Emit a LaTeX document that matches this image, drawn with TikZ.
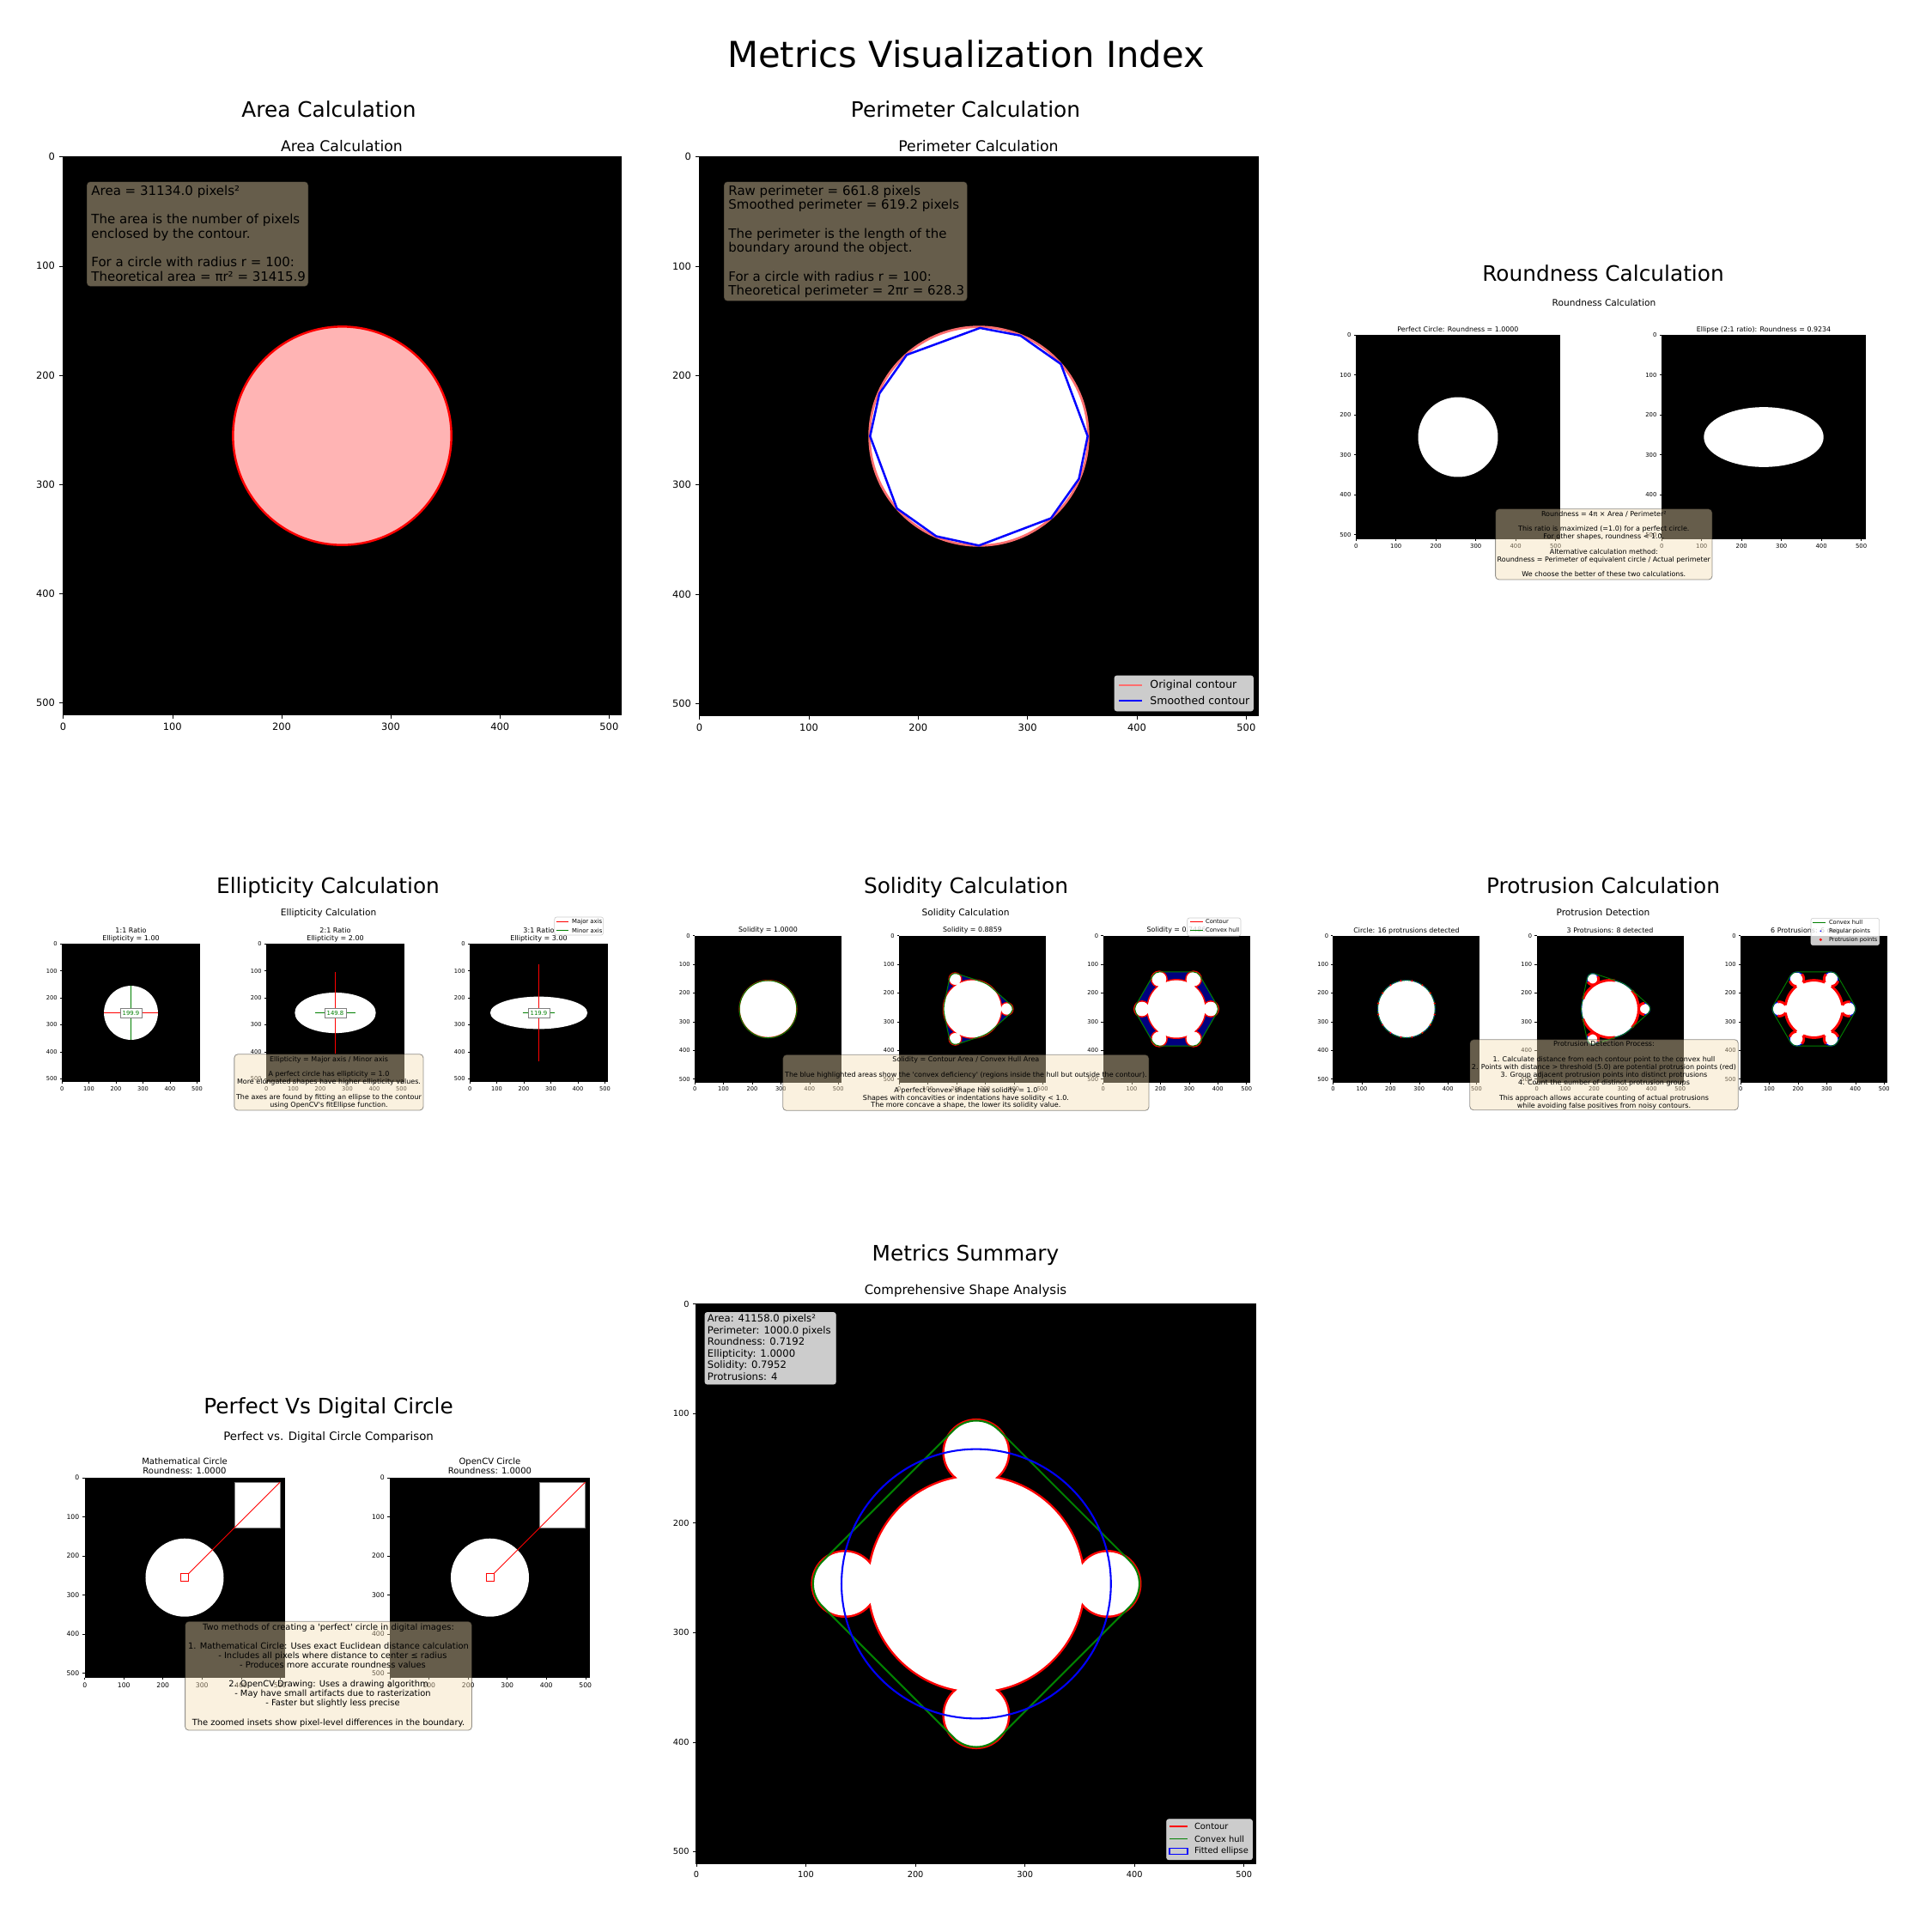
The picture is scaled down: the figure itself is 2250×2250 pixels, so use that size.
\documentclass[tikz,border=0pt]{standalone}
\usepackage{fontspec}
\setmainfont{DejaVu Sans}
\definecolor{wheat}{RGB}{245,222,179}
\definecolor{pinkfill}{RGB}{255,180,180}
\definecolor{navyc}{RGB}{0,0,128}
\definecolor{mplgreen}{RGB}{0,128,0}
\definecolor{salmonc}{RGB}{255,110,110}
\definecolor{lgedge}{RGB}{204,204,204}
\definecolor{mplred}{RGB}{255,0,0}
\definecolor{mplblue}{RGB}{0,0,255}
\newcommand\fsz[1]{\fontsize{#1}{#1}\selectfont}
\newcommand\sq{\textquotesingle}
\tikzset{
 wbox/.style={rounded corners=2pt, fill=wheat, draw=black, opacity=0.42, line width=0.4pt},
 lgbox/.style={rounded corners=1.2pt, fill=white, fill opacity=0.8, draw=lgedge, line width=0.3pt},
 ptitle/.style={anchor=base, inner sep=0pt, font=\fsz{11.9}},
 shape3/.style={insert path={(0,0) circle[radius=100] (0:120) circle[radius=20] (120:120) circle[radius=20] (240:120) circle[radius=20]}},
 hull3/.style={insert path={([shift={(0:120)}]-48.19:20) arc[start angle=-48.19,end angle=48.19,radius=20] -- (48.19:100) arc[start angle=48.19,end angle=71.81,radius=100] -- ([shift={(120:120)}]71.81:20) arc[start angle=71.81,end angle=168.19,radius=20] -- (168.19:100) arc[start angle=168.19,end angle=191.81,radius=100] -- ([shift={(240:120)}]191.81:20) arc[start angle=191.81,end angle=288.19,radius=20] -- (288.19:100) arc[start angle=288.19,end angle=311.81,radius=100] -- cycle}},
 shape6/.style={insert path={(0,0) circle[radius=100] (0:120) circle[radius=25] (60:120) circle[radius=25] (120:120) circle[radius=25] (180:120) circle[radius=25] (240:120) circle[radius=25] (300:120) circle[radius=25]}},
 hull6/.style={insert path={([shift={(0:120)}]-30:25) arc[start angle=-30,end angle=30,radius=25] -- ([shift={(60:120)}]30:25) arc[start angle=30,end angle=90,radius=25] -- ([shift={(120:120)}]90:25) arc[start angle=90,end angle=150,radius=25] -- ([shift={(180:120)}]150:25) arc[start angle=150,end angle=210,radius=25] -- ([shift={(240:120)}]210:25) arc[start angle=210,end angle=270,radius=25] -- ([shift={(300:120)}]270:25) arc[start angle=270,end angle=330,radius=25] -- cycle}},
 shape4/.style={insert path={(0,0) circle[radius=98] (0:120) circle[radius=29] (90:120) circle[radius=29] (180:120) circle[radius=29] (270:120) circle[radius=29]}},
 hull4/.style={insert path={([shift={(0:120)}]-45:29) arc[start angle=-45,end angle=45,radius=29] -- ([shift={(90:120)}]45:29) arc[start angle=45,end angle=135,radius=29] -- ([shift={(180:120)}]135:29) arc[start angle=135,end angle=225,radius=29] -- ([shift={(270:120)}]225:29) arc[start angle=225,end angle=315,radius=29] -- cycle}},
}
\newcommand\imgaxes[4]{%
  \fill[black] (#1,#2) rectangle ++(#3,#3);
  \pgfmathsetmacro\tkem{#4/0.48}%
  \foreach \v in {0,100,200,300,400,500}{%
    \pgfmathsetmacro\tkp{(\v+0.5)/512*#3}%
    \draw[line width=0.25pt] (#1+\tkp,#2+#3) -- ++(0,0.35*\tkem);
    \draw[line width=0.25pt] (#1,#2+\tkp) -- ++(-0.35*\tkem,0);
    \node[anchor=north,inner sep=0pt,font=\fsz{#4}] at (#1+\tkp,#2+#3+0.75*\tkem) {\v};
    \node[anchor=east,inner sep=0pt,font=\fsz{#4}] at (#1-0.75*\tkem,#2+\tkp) {\v};
  }%
}
\newcommand\tlines[5]{%
  \foreach \tlx [count=\tli from 0] in {#5}{%
    \node[inner sep=0pt,#4] at (#1,#2+\tli*#3) {\tlx};}%
}
\begin{document}
\begin{tikzpicture}[x=0.48pt,y=-0.48pt]
\useasboundingbox (0,0) rectangle (2250,2250);
\fill[white] (0,0) rectangle (2250,2250);
\node[anchor=base,inner sep=0pt,font=\fsz{20}] (maintitle) at (1125,78) {Metrics Visualization Index};

% ================= Area =================
\node[ptitle] (areatitle) at (383,136) {Area Calculation};
\node[anchor=base,inner sep=0pt,font=\fsz{8.3}] (areasub) at (398,176) {Area Calculation};
\imgaxes{73}{182}{651}{5.5}
\begin{scope}[shift={(73,182)},scale=1.2715]
  \fill[pinkfill] (256,256) circle[radius=100];
  \draw[mplred,line width=1.2pt] (256,256) circle[radius=100];
\end{scope}
\draw[wbox] (101,211.5) rectangle (359,333.6);
\tlines{106}{227}{16.7}{anchor=base west,font=\fsz{7.2}}{Area = 31134.0 pixels²,{},The area is the number of pixels,enclosed by the contour.,{},For a circle with radius r = 100:,Theoretical area = πr² = 31415.9}

% ================= Perimeter =================
\node[ptitle] (perimtitle) at (1124.5,136) {Perimeter Calculation};
\node[anchor=base,inner sep=0pt,font=\fsz{8.3}] (perimsub) at (1139.5,176) {Perimeter Calculation};
\imgaxes{814}{182}{652}{5.5}
\begin{scope}[shift={(814,182)},scale=1.2734]
  \fill[white] (256,256) circle[radius=100];
  \draw[salmonc,line width=1.3pt] (256,256) circle[radius=100];
  \draw[mplblue,line width=1.2pt,line join=round] (257,157) -- (294,164) -- (331,190) -- (355.5,256) -- (347.5,295) -- (322,331) -- (256,356) -- (217,347.5) -- (181,322) -- (156.5,256) -- (165,217) -- (190,181.6) -- cycle;
\end{scope}
\draw[wbox] (843,211.5) rectangle (1126.5,350.6);
\tlines{848}{227}{16.7}{anchor=base west,font=\fsz{7.2}}{Raw perimeter = 661.8 pixels,Smoothed perimeter = 619.2 pixels,{},The perimeter is the length of the,boundary around the object.,{},For a circle with radius r = 100:,Theoretical perimeter = 2πr = 628.3}
\draw[lgbox] (1298,787) rectangle (1459.5,828);
\draw[salmonc,line width=0.8pt] (1303,798) -- (1329.6,798);
\draw[mplblue,line width=0.8pt] (1303,816) -- (1329.6,816);
\node[anchor=west,inner sep=0pt,font=\fsz{6}] (lgorig) at (1339,798) {Original contour};
\node[anchor=west,inner sep=0pt,font=\fsz{6}] (lgsmooth) at (1339,816) {Smoothed contour};

% ================= Roundness =================
\node[ptitle] (roundtitle) at (1867,327) {Roundness Calculation};
\node[anchor=base,inner sep=0pt,font=\fsz{5.1}] (roundsub) at (1868,356) {Roundness Calculation};
\node[anchor=base,inner sep=0pt,font=\fsz{3.8}] at (1698,386) {Perfect Circle: Roundness = 1.0000};
\node[anchor=base,inner sep=0pt,font=\fsz{3.8}] at (2054,386) {Ellipse (2:1 ratio): Roundness = 0.9234};
\imgaxes{1579}{390}{238}{3.3}
\imgaxes{1935}{390}{238}{3.3}
\begin{scope}[shift={(1579,390)},scale=0.46484]
  \fill[white] (256,256) circle[radius=100];
\end{scope}
\begin{scope}[shift={(1935,390)},scale=0.46484]
  \fill[white] (256,256) ellipse[x radius=150,y radius=75];
\end{scope}
\draw[wbox] (1741.6,592.7) rectangle (1994,675);
\tlines{1867.8}{601}{8.87}{anchor=base,font=\fsz{3.84}}{{Roundness = 4π × Area / Perimeter²},{},{This ratio is maximized (=1.0) for a perfect circle.},{For other shapes, roundness < 1.0.},{},{Alternative calculation method:},{Roundness = Perimeter of equivalent circle / Actual perimeter},{},{We choose the better of these two calculations.}}

% ================= Ellipticity =================
\node[ptitle] (elltitle) at (382,1040) {Ellipticity Calculation};
\node[anchor=base,inner sep=0pt,font=\fsz{5.1}] (ellsub) at (382.6,1066) {Ellipticity Calculation};
\foreach \cx/\r in {152.5/1, 390.5/2, 627.5/3}{
  \node[anchor=base,inner sep=0pt,font=\fsz{3.85}] at (\cx,1086) {\r:1 Ratio};
  \node[anchor=base,inner sep=0pt,font=\fsz{3.85}] at (\cx,1095) {Ellipticity = \r.00};
}
\imgaxes{72}{1099}{161}{3.2}
\imgaxes{310}{1099}{161}{3.2}
\imgaxes{547}{1099}{161}{3.2}
\begin{scope}[shift={(72,1099)},scale=0.31445]
  \fill[white] (256,256) circle[radius=100];
  \draw[mplred,line width=0.6pt] (156,256) -- (356,256);
  \draw[mplgreen,line width=0.6pt] (256,156) -- (256,356);
  \node[fill=white,draw=gray,line width=0.3pt,inner sep=1.3pt,font=\fsz{3.3},text=mplgreen] (l1) at (256,256) {199.9};
\end{scope}
\begin{scope}[shift={(310,1099)},scale=0.31445]
  \fill[white] (256,256) ellipse[x radius=150,y radius=75];
  \draw[mplred,line width=0.6pt] (256,106) -- (256,406);
  \draw[mplgreen,line width=0.6pt] (181,256) -- (331,256);
  \node[fill=white,draw=gray,line width=0.3pt,inner sep=1.3pt,font=\fsz{3.3},text=mplgreen] (l2) at (256,256) {149.8};
\end{scope}
\begin{scope}[shift={(547,1099)},scale=0.31445]
  \fill[white] (256,256) ellipse[x radius=180,y radius=60];
  \draw[mplred,line width=0.6pt] (256,76) -- (256,436);
  \draw[mplgreen,line width=0.6pt] (196,256) -- (316,256);
  \node[fill=white,draw=gray,line width=0.3pt,inner sep=1.3pt,font=\fsz{3.3},text=mplgreen] (l3) at (256,256) {119.9};
\end{scope}
\draw[lgbox] (645.8,1068) rectangle (702.6,1089);
\draw[mplred,line width=0.6pt] (647.5,1073.7) -- (662.3,1073.7);
\draw[mplgreen,line width=0.6pt] (647.5,1083.7) -- (662.3,1083.7);
\node[anchor=west,inner sep=0pt,font=\fsz{3.3}] at (665.8,1073.7) {Major axis};
\node[anchor=west,inner sep=0pt,font=\fsz{3.3}] at (665.8,1083.7) {Minor axis};
\draw[wbox] (272.9,1227.7) rectangle (493,1293);
\tlines{383}{1236}{8.9}{anchor=base,font=\fsz{3.84}}{{Ellipticity = Major axis / Minor axis},{},{A perfect circle has ellipticity = 1.0},{More elongated shapes have higher ellipticity values.},{},{The axes are found by fitting an ellipse to the contour},{using OpenCV\sq s fitEllipse function.}}

% ================= Solidity =================
\node[ptitle] (soltitle) at (1125,1040) {Solidity Calculation};
\node[anchor=base,inner sep=0pt,font=\fsz{5.1}] (solsub) at (1124.6,1066) {Solidity Calculation};
\node[anchor=base,inner sep=0pt,font=\fsz{3.8}] at (894.5,1085) {Solidity = 1.0000};
\node[anchor=base,inner sep=0pt,font=\fsz{3.8}] at (1132.5,1085) {Solidity = 0.8859};
\node[anchor=base,inner sep=0pt,font=\fsz{3.8}] at (1370,1085) {Solidity = 0.7486};
\imgaxes{809}{1089.5}{171}{3.2}
\imgaxes{1047}{1089.5}{171}{3.2}
\imgaxes{1284.5}{1089.5}{171}{3.2}
\begin{scope}[shift={(809,1089.5)},scale=0.33398]
  \fill[white] (256,256) circle[radius=100];
  \draw[mplred,line width=0.6pt] (256,256) circle[radius=100];
  \draw[mplgreen,line width=0.5pt] (256,257) circle[radius=100];
\end{scope}
\begin{scope}[shift={(1047,1089.5)},scale=0.33398]
 \begin{scope}[shift={(256,256)}]
  \fill[navyc,hull3];
  \draw[mplred,line width=1.3pt,shape3];
  \fill[white,shape3];
  \draw[mplgreen,line width=0.5pt,hull3];
 \end{scope}
\end{scope}
\begin{scope}[shift={(1284.5,1089.5)},scale=0.33398]
 \begin{scope}[shift={(256,256)}]
  \fill[navyc,hull6];
  \draw[mplred,line width=1.5pt,shape6];
  \fill[white,shape6];
  \draw[mplgreen,line width=0.5pt,hull6];
 \end{scope}
\end{scope}
\draw[lgbox] (1382.7,1069) rectangle (1445,1090);
\draw[mplred,line width=0.6pt] (1385.8,1073.3) -- (1400.5,1073.3);
\draw[mplgreen,line width=0.6pt] (1385.8,1083.3) -- (1400.5,1083.3);
\node[anchor=west,inner sep=0pt,font=\fsz{3.2}] at (1403.7,1073.3) {Contour};
\node[anchor=west,inner sep=0pt,font=\fsz{3.2}] at (1403.7,1083.3) {Convex hull};
\draw[wbox] (911.7,1228.3) rectangle (1338,1293.3);
\tlines{1124.9}{1236.5}{8.9}{anchor=base,font=\fsz{3.84}}{{Solidity = Contour Area / Convex Hull Area},{},{The blue highlighted areas show the \sq convex deficiency\sq\ (regions inside the hull but outside the contour).},{},{A perfect convex shape has solidity = 1.0},{Shapes with concavities or indentations have solidity < 1.0.},{The more concave a shape, the lower its solidity value.}}

% ================= Protrusion =================
\node[ptitle] (prottitle) at (1867,1040) {Protrusion Calculation};
\node[anchor=base,inner sep=0pt,font=\fsz{5.1}] (protsub) at (1867,1066) {Protrusion Detection};
\node[anchor=base,inner sep=0pt,font=\fsz{3.8}] at (1638,1086) {Circle: 16 protrusions detected};
\node[anchor=base,inner sep=0pt,font=\fsz{3.8}] at (1875,1086) {3 Protrusions: 8 detected};
\node[anchor=base,inner sep=0pt,font=\fsz{3.8}] at (2112.5,1086) {6 Protrusions: 6 detected};
\imgaxes{1552.4}{1089.5}{171}{3.2}
\imgaxes{1789.5}{1089.5}{171}{3.2}
\imgaxes{2027}{1089.5}{171}{3.2}
\begin{scope}[shift={(1552.4,1089.5)},scale=0.33398]
 \begin{scope}[shift={(256,256)}]
  \fill[white] (0,0) circle[radius=100];
  \draw[mplgreen,line width=0.5pt] (0,0) circle[radius=100];
  \draw[mplblue,line width=0.4pt,dash pattern=on 0.4pt off 0.9pt] (0,0) circle[radius=100];
  \foreach \pa in {11.25,33.75,...,348.75}{\fill[mplred] (\pa:100) circle[radius=3.5];}
 \end{scope}
\end{scope}
\begin{scope}[shift={(1789.5,1089.5)},scale=0.33398]
 \begin{scope}[shift={(256,256)}]
  \fill[white,shape3];
  \foreach \pa in {0,120,240}{
    \draw[mplred,line width=1.4pt] (\pa+80:100) arc[start angle=\pa+80,end angle=\pa+160,radius=100];
    \draw[mplblue,line width=0.5pt] (\pa+40:100) arc[start angle=\pa+40,end angle=\pa+80,radius=100];
    \draw[mplred,line width=1.4pt] ([shift={(\pa:120)}]\pa+90:20) arc[start angle=\pa+90,end angle=\pa+270,radius=20];
    \draw[mplblue,line width=0.5pt] ([shift={(\pa:120)}]\pa-90:20) arc[start angle=\pa-90,end angle=\pa+90,radius=20];
  }
  \draw[mplgreen,line width=0.45pt,hull3];
 \end{scope}
\end{scope}
\begin{scope}[shift={(2027,1089.5)},scale=0.33398]
 \begin{scope}[shift={(256,256)}]
  \fill[white,shape6];
  \foreach \pa in {0,60,...,300}{
    \draw[mplred,line width=1.4pt] (\pa+7.85:100) arc[start angle=\pa+7.85,end angle=\pa+52.15,radius=100];
    \draw[mplred,line width=1.4pt] ([shift={(\pa:120)}]\pa+75:25) arc[start angle=\pa+75,end angle=\pa+146.9,radius=25];
    \draw[mplred,line width=1.4pt] ([shift={(\pa:120)}]\pa-146.9:25) arc[start angle=\pa-146.9,end angle=\pa-75,radius=25];
    \draw[mplblue,line width=0.5pt] ([shift={(\pa:120)}]\pa-75:25) arc[start angle=\pa-75,end angle=\pa+75,radius=25];
  }
  \draw[mplgreen,line width=0.45pt,hull6];
 \end{scope}
\end{scope}
\draw[lgbox] (2109,1069.3) rectangle (2188.6,1100.7);
\draw[mplgreen,line width=0.6pt] (2111,1074.3) -- (2126,1074.3);
\fill[mplblue] (2120.3,1084.3) circle[radius=0.9];
\fill[mplred] (2120.3,1094.3) circle[radius=1.7];
\node[anchor=west,inner sep=0pt,font=\fsz{3.2}] at (2129.6,1074.3) {Convex hull};
\node[anchor=west,inner sep=0pt,font=\fsz{3.2}] at (2129.6,1084.3) {Regular points};
\node[anchor=west,inner sep=0pt,font=\fsz{3.2}] at (2129.6,1094.3) {Protrusion points};
\draw[wbox] (1711.8,1210.7) rectangle (2024.3,1292.7);
\tlines{1868}{1218.8}{8.93}{anchor=base,font=\fsz{3.84}}{{Protrusion Detection Process:},{},{1. Calculate distance from each contour point to the convex hull},{2. Points with distance > threshold (5.0) are potential protrusion points (red)},{3. Group adjacent protrusion points into distinct protrusions},{4. Count the number of distinct protrusion groups},{},{This approach allows accurate counting of actual protrusions},{while avoiding false positives from noisy contours.}}

% ================= Perfect vs Digital =================
\node[ptitle] (perftitle) at (382.6,1646) {Perfect Vs Digital Circle};
\node[anchor=base,inner sep=0pt,font=\fsz{6.4}] (perfsub) at (382.6,1677) {Perfect vs. Digital Circle Comparison};
\node[anchor=base,inner sep=0pt,font=\fsz{4.8}] at (215,1705) {Mathematical Circle};
\node[anchor=base,inner sep=0pt,font=\fsz{4.8}] at (215,1716) {Roundness: 1.0000};
\node[anchor=base,inner sep=0pt,font=\fsz{4.8}] at (570.5,1705) {OpenCV Circle};
\node[anchor=base,inner sep=0pt,font=\fsz{4.8}] at (570.5,1716) {Roundness: 1.0000};
\imgaxes{98.5}{1720.7}{233}{3.7}
\imgaxes{454}{1720.7}{233}{3.7}
\foreach \ox in {98.5,454}{
 \begin{scope}[shift={(\ox,1720.7)},scale=0.45508]
  \fill[white] (256,256) circle[radius=100];
  \fill[white] (384,12) rectangle (500,128);
  \draw[gray,line width=0.4pt] (384,12) rectangle (500,128);
  \draw[mplred,line width=0.4pt] (246,246) rectangle (266,266);
  \draw[mplred,line width=0.4pt] (266,246) -- (500,12);
 \end{scope}
}
\draw[wbox] (215.6,1888.3) rectangle (549.5,2015);
\tlines{382.5}{1898.5}{11.05}{anchor=base,font=\fsz{4.75}}{{Two methods of creating a \sq perfect\sq\ circle in digital images:},{},{1. Mathematical Circle: Uses exact Euclidean distance calculation},{\hspace*{1em}- Includes all pixels where distance to center ≤ radius},{\hspace*{1em}- Produces more accurate roundness values},{},{2. OpenCV Drawing: Uses a drawing algorithm},{\hspace*{1em}- May have small artifacts due to rasterization},{\hspace*{1em}- Faster but slightly less precise},{},{The zoomed insets show pixel-level differences in the boundary.}}

% ================= Summary =================
\node[ptitle] (sumtitle) at (1124.5,1468) {Metrics Summary};
\node[anchor=base,inner sep=0pt,font=\fsz{7.2}] (sumsub) at (1124.5,1507) {Comprehensive Shape Analysis};
\imgaxes{810.4}{1518}{653}{4.7}
\begin{scope}[shift={(810.4,1518)},scale=1.27539]
 \begin{scope}[shift={(256,256)}]
  \draw[mplred,line width=2.4pt,shape4];
  \fill[white,shape4];
  \draw[mplgreen,line width=1.0pt,hull4];
  \draw[mplblue,line width=1.0pt] (0,0) circle[radius=123];
 \end{scope}
\end{scope}
\draw[lgbox] (821,1528.5) rectangle (973.3,1612);
\tlines{823.5}{1539.5}{13.55}{anchor=base west,font=\fsz{5.6}}{Area: 41158.0 pixels²,Perimeter: 1000.0 pixels,Roundness: 0.7192,Ellipticity: 1.0000,Solidity: 0.7952,Protrusions: 4}
\draw[lgbox] (1358.6,2118.7) rectangle (1458.5,2165.8);
\draw[mplred,line width=0.8pt] (1362,2126.8) -- (1383,2126.8);
\draw[mplgreen,line width=0.8pt] (1362,2141.5) -- (1383,2141.5);
\draw[mplblue,line width=0.8pt,fill=lgedge] (1362,2152.5) rectangle (1383,2159.5);
\node[anchor=west,inner sep=0pt,font=\fsz{4.75}] at (1390.6,2126.8) {Contour};
\node[anchor=west,inner sep=0pt,font=\fsz{4.75}] at (1390.6,2141.5) {Convex hull};
\node[anchor=west,inner sep=0pt,font=\fsz{4.75}] at (1390.6,2156) {Fitted ellipse};
\end{tikzpicture}
\end{document}
